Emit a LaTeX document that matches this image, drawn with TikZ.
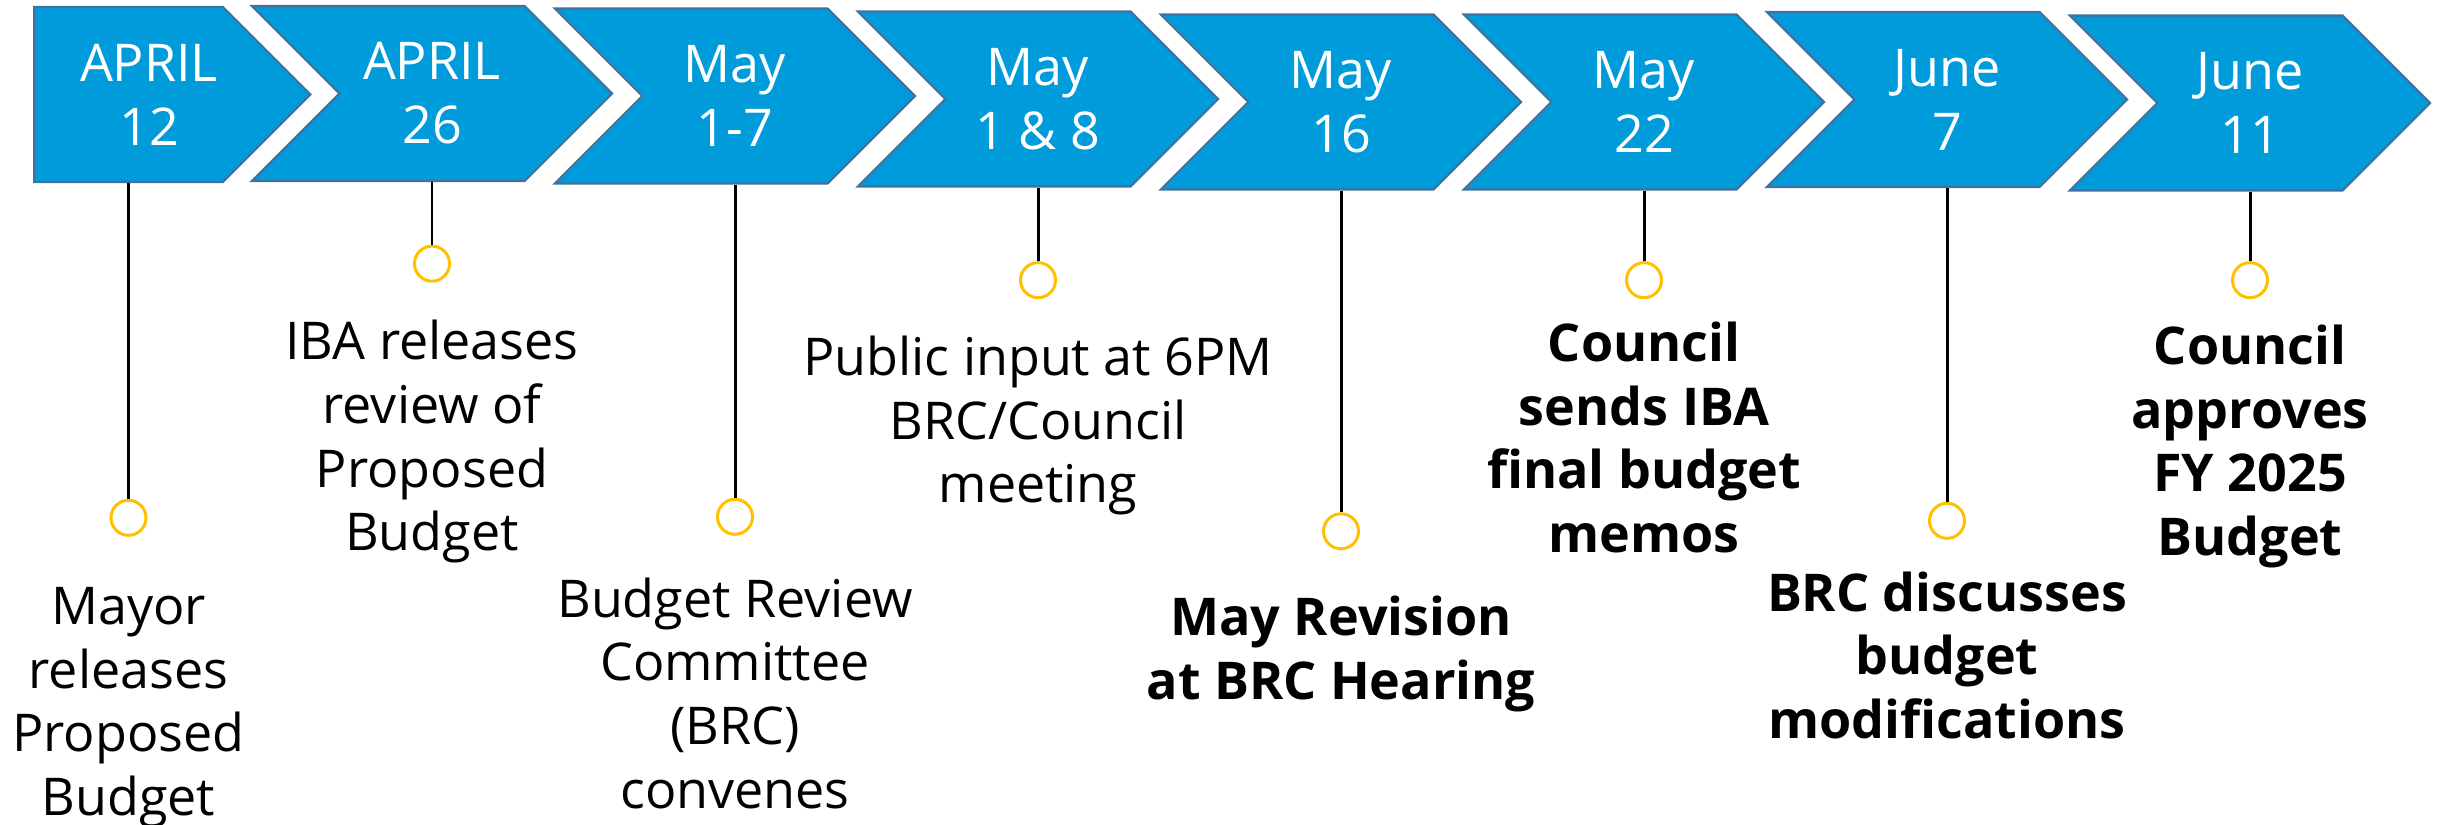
\documentclass[tikz,border=0pt]{standalone}
\usepackage{fontspec}
\setmainfont{Open Sans}
\usetikzlibrary{shapes.symbols,positioning}
\definecolor{chevblue}{HTML}{009BDB}
\definecolor{chevline}{HTML}{41719C}
\definecolor{dotgold}{HTML}{FFC000}

\begin{document}
\begin{tikzpicture}[x=0.01cm, y=-0.01cm,
    chevron/.style={signal, signal to=east, signal from=west, signal pointer angle=90,
      fill=chevblue, draw=chevline, line width=0.6pt, text=white, align=center,
      minimum width=3.6cm, minimum height=1.75cm, inner sep=0pt,
      font=\fontsize{14.8}{18.2}\selectfont},
    dot/.style={circle, draw=dotgold, line width=0.85pt, minimum size=0.35cm, inner sep=0pt},
    event/.style={align=center, inner sep=0pt, font=\fontsize{14.8}{18.1}\selectfont},
    stem/.style={line width=0.85pt}]
    \useasboundingbox (0,0) rectangle (2445,824);

    \node (April12) [chevron, signal from=nowhere, minimum width=2.76cm] at (128.5,94.5) {\hspace*{0.41cm}APRIL\\\hspace*{0.41cm}12};
    \node (April26) [chevron] at (432,93.5) {APRIL\\26};
    \node (May1to7) [chevron] at (735,96) {May\\1-7};
    \node (May1and8) [chevron] at (1038,99) {May\\1 \& 8};
    \node (May16) [chevron] at (1341,102) {May\\16};
    \node (May22) [chevron] at (1644,102) {May\\22};
    \node (June7) [chevron] at (1947,99.5) {June\\7};
    \node (June11) [chevron] at (2250,103) {June\\11};

    \node (April12Dot) [dot, below=3.155cm of April12.south] {};
    \node (April26Dot) [dot, below=0.625cm of April26.south] {};
    \node (May1to7Dot) [dot, below=3.13cm of May1to7.south] {};
    \node (May1and8Dot) [dot, below=0.735cm of May1and8.south] {};
    \node (May16Dot) [dot, below=3.215cm of May16.south] {};
    \node (May22Dot) [dot, below=0.705cm of May22.south] {};
    \node (June7Dot) [dot, below=3.135cm of June7.south] {};
    \node (June11Dot) [dot, below=0.695cm of June11.south] {};

    \node (MayorReleases) [event, below=0.5cm of April12Dot] {Mayor\\releases\\Proposed\\Budget};
    \node (IBAReview) [event, below=0.37cm of April26Dot] {IBA releases\\review of\\Proposed\\Budget};
    \node (BRCConvenes) [event, below=0.41cm of May1to7Dot] {Budget Review\\Committee\\(BRC)\\convenes};
    \node (PublicInput) [event, below=0.36cm of May1and8Dot] {Public input at 6PM\\BRC/Council\\meeting};
    \node (MayRevision) [event, font=\fontsize{14.8}{18.1}\selectfont\bfseries, below=0.45cm of May16Dot] {May Revision\\at BRC Hearing};
    \node (CouncilMemos) [event, font=\fontsize{14.8}{18.1}\selectfont\bfseries, below=0.22cm of May22Dot] {Council\\sends IBA\\final budget\\memos};
    \node (BRCDiscusses) [event, font=\fontsize{14.8}{18.1}\selectfont\bfseries, below=0.31cm of June7Dot] {BRC discusses\\budget\\modifications};
    \node (CouncilApproves) [event, font=\fontsize{14.8}{18.1}\selectfont\bfseries, below=0.25cm of June11Dot] {Council\\approves\\FY 2025\\Budget};

    \draw[stem] (April12Dot |- April12.south) -- (April12Dot.north);
    \draw[stem] (April26Dot |- April26.south) -- (April26Dot.north);
    \draw[stem] (May1to7Dot |- May1to7.south) -- (May1to7Dot.north);
    \draw[stem] (May1and8Dot |- May1and8.south) -- (May1and8Dot.north);
    \draw[stem] (May16Dot |- May16.south) -- (May16Dot.north);
    \draw[stem] (May22Dot |- May22.south) -- (May22Dot.north);
    \draw[stem] (June7Dot |- June7.south) -- (June7Dot.north);
    \draw[stem] (June11Dot |- June11.south) -- (June11Dot.north);
\end{tikzpicture}
\end{document}
